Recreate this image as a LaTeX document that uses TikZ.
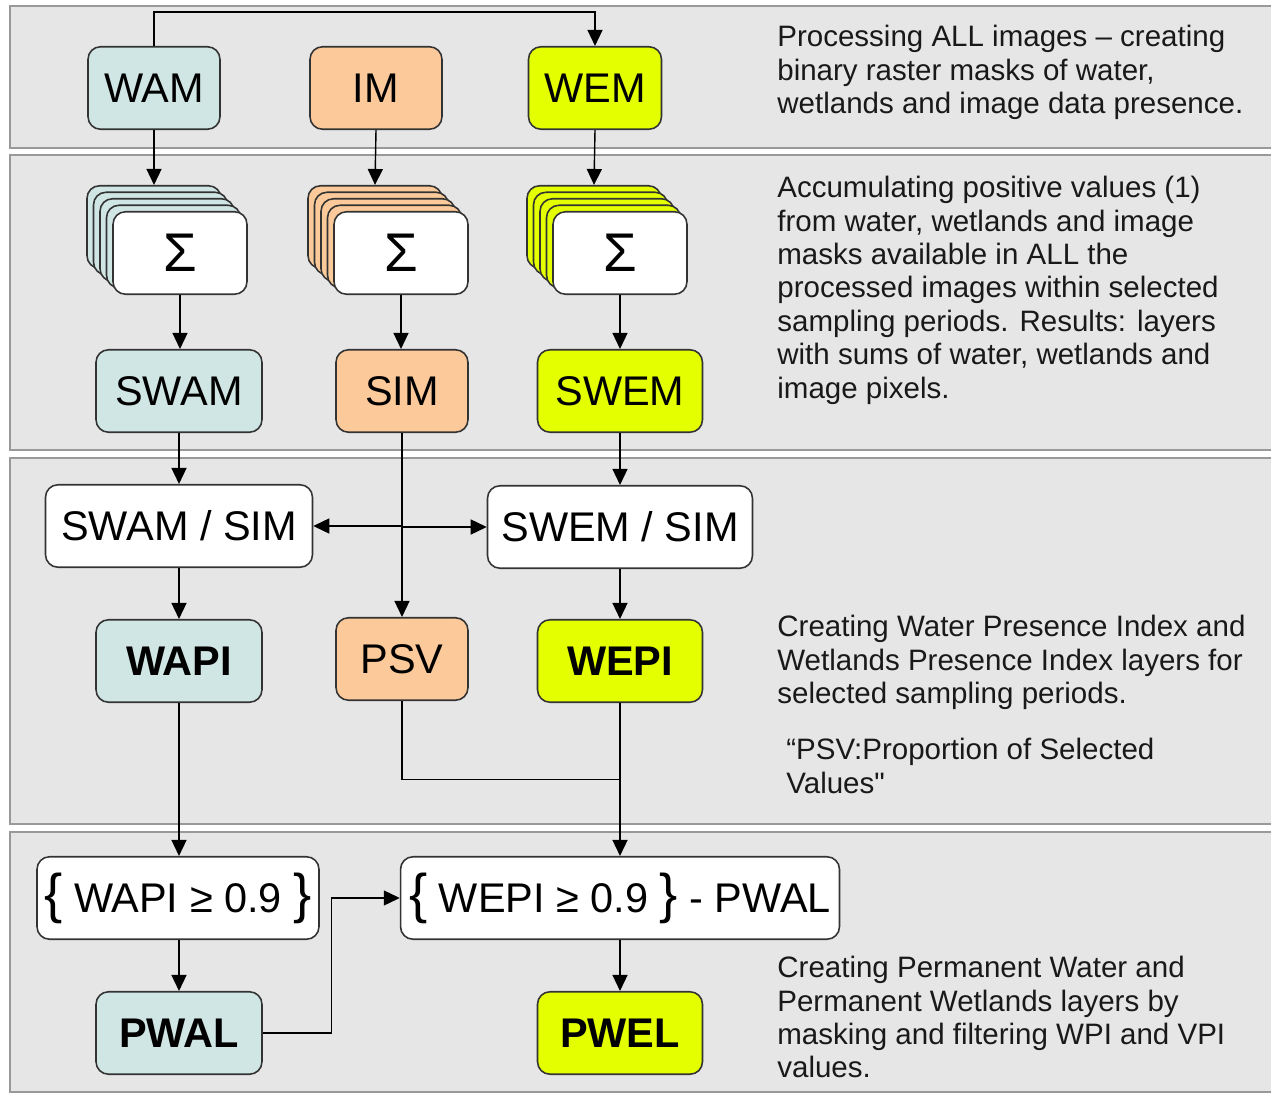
\documentclass[tikz,border=0pt]{standalone}
\usepackage{fontspec}
\setmainfont{Liberation Sans}[Ligatures=TeXOff]
\usetikzlibrary{positioning, arrows.meta, calc}

\definecolor{watercol}{HTML}{D0E6E4}
\definecolor{imgcol}{HTML}{FCC99A}
\definecolor{wetcol}{HTML}{E4FF00}
\definecolor{panelcol}{HTML}{E6E6E6}

\newcommand{\boxfont}{\fontsize{23.6}{26}\selectfont}
\newcommand{\bigbrace}[1]{{\fontsize{31}{31}\selectfont#1}}

\tikzset{
  panel/.style={draw=black!40, fill=panelcol, line width=0.8pt},
  box/.style={draw=black!80, line width=0.9pt, rounded corners=0.25cm,
    minimum height=1.65cm, inner sep=2pt, font=\boxfont},
  boldbox/.style={box, font=\boxfont\bfseries},
  card/.style={box, minimum width=2.68cm},
  arr/.style={line width=0.8pt, -{Triangle[length=0.32cm, width=0.3cm]}},
  link/.style={line width=0.8pt},
  note/.style={anchor=north west, inner sep=0, align=left,
    font=\fontsize{16.8}{19}\selectfont, text=black!90},
}

% stack of mask cards with a sum on top
\newcommand{\sumstack}[4]{%
  \foreach \k in {4,3,2,1}
    \node[card, fill=#4] (#1-\k) at (#2-6.5*\k, #3-6.5*\k) {};
  \node[card, fill=white, font=\fontsize{31}{31}\selectfont] (#1) at (#2,#3) {Σ};
}

\begin{document}
\begin{tikzpicture}[x=0.02cm, y=-0.02cm]
  \useasboundingbox (0,0) rectangle (1271,1094);

  % background panels
  \draw[panel] (10,6) rectangle (1290,148);
  \draw[panel] (10,155) rectangle (1290,450);
  \draw[panel] (10,458) rectangle (1290,824);
  \draw[panel] (10,832) rectangle (1290,1092);

  % masks
  \node[box, fill=watercol, minimum width=2.64cm] (wam) at (154,88) {WAM};
  \node[box, fill=imgcol, minimum width=2.64cm] (im) at (376,88) {IM};
  \node[box, fill=wetcol, minimum width=2.66cm] (wem) at (595,88) {WEM};

  % sums
  \sumstack{sumwa}{180}{253}{watercol}
  \sumstack{sumim}{401}{253}{imgcol}
  \sumstack{sumwe}{620}{253}{wetcol}

  \node[box, fill=watercol, minimum width=3.32cm] (swam) at (179,391) {SWAM};
  \node[box, fill=imgcol, minimum width=2.64cm] (sim) at (402,391) {SIM};
  \node[box, fill=wetcol, minimum width=3.3cm] (swem) at (620,391) {SWEM};

  % ratios and indices
  \node[box, fill=white, minimum width=5.34cm] (swamsim) at (179,526) {SWAM / SIM};
  \node[box, fill=white, minimum width=5.3cm] (swemsim) at (620,527) {SWEM / SIM};

  \node[boldbox, fill=watercol, minimum width=3.32cm] (wapi) at (179,661) {WAPI};
  \node[box, fill=imgcol, minimum width=2.64cm] (psv) at (402,659) {PSV};
  \node[boldbox, fill=wetcol, minimum width=3.3cm] (wepi) at (620,661) {WEPI};

  % permanent layers
  \node[box, fill=white, minimum width=5.64cm] (wapisel) at (178,898)
    {\bigbrace{\{} WAPI ≥ 0.9 \bigbrace{\}}};
  \node[box, fill=white, minimum width=8.78cm] (wepisel) at (620,898)
    {\bigbrace{\{} WEPI ≥ 0.9 \bigbrace{\}} - PWAL};
  \node[boldbox, fill=watercol, minimum width=3.32cm] (pwal) at (179,1033) {PWAL};
  \node[boldbox, fill=wetcol, minimum width=3.3cm] (pwel) at (620,1033) {PWEL};

  % connectors
  \draw[arr] (wam.north) -- ++(0,-34) -| (wem.north);
  \draw[arr] (wam.south) -- (sumwa-4.north);
  \draw[arr] (im.south) -- (sumim-4.north);
  \draw[arr] (wem.south) -- (sumwe-4.north);
  \draw[arr] (sumwa.south) -- (sumwa.south |- swam.north);
  \draw[arr] (sumim.south) -- (sumim.south |- sim.north);
  \draw[arr] (sumwe.south) -- (sumwe.south |- swem.north);

  \draw[arr] (swam.south) -- (swamsim.north);
  \draw[arr] (swem.south) -- (swemsim.north);
  \draw[arr] (sim.south) -- (psv.north);
  \draw[arr] (sim.south |- swamsim.east) -- (swamsim.east);
  \draw[arr] (sim.south |- swemsim.west) -- (swemsim.west);
  \draw[arr] (swamsim.south) -- (wapi.north);
  \draw[arr] (swemsim.south) -- (wepi.north);

  \coordinate (join) at ($(wepi.south)!0.5!(wepisel.north)$);
  \draw[link] (psv.south) |- (join);
  \draw[arr] (wepi.south) -- (wepisel.north);
  \draw[arr] (wapi.south) -- (wapi.south |- wapisel.north);
  \draw[arr] (pwal.north |- wapisel.south) -- (pwal.north);
  \draw[arr] (wepisel.south) -- (pwel.north);
  \draw[arr] (pwal.east) -- ++(69,0) |- (wepisel.west);

  % notes
  \node[note] (note1) at (777,25) {Processing ALL images – creating\\binary raster masks of water,\\wetlands and image data presence.};
  \node[note] (note2) at (777,176) {Accumulating positive values (1)\\from water, wetlands and image\\masks available in ALL the\\processed images within selected\\sampling periods. Results: layers\\with sums of water, wetlands and\\image pixels.};
  \node[note] (note3) at (777,615) {Creating Water Presence Index and\\Wetlands Presence Index layers for\\selected sampling periods.};
  \node[note] (note4) at (786,738) {“PSV:Proportion of Selected\\Values"};
  \node[note] (note5) at (777,956) {Creating Permanent Water and\\Permanent Wetlands layers by\\masking and filtering WPI and VPI\\values.};
\end{tikzpicture}
\end{document}
